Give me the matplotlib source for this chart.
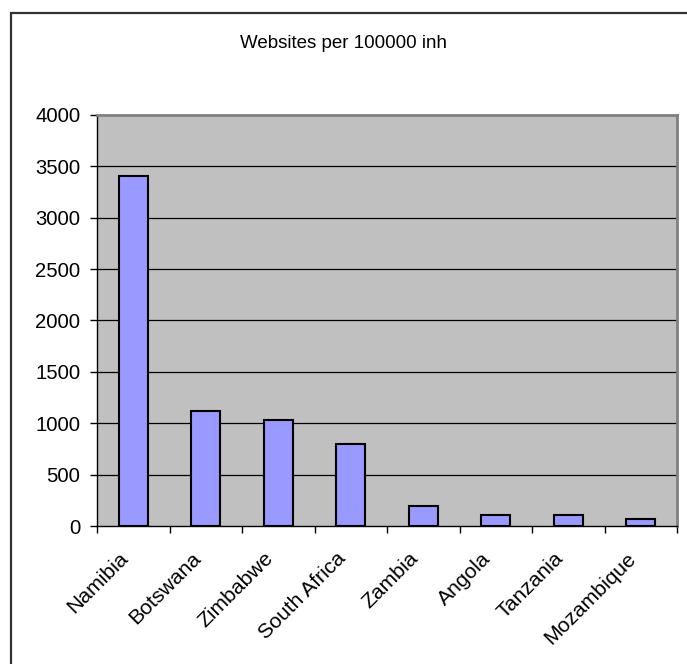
import matplotlib
matplotlib.use("Agg")
import matplotlib.pyplot as plt
from matplotlib.patches import Rectangle
import matplotlib.transforms as mtransforms
import numpy as np

categories = ["Namibia", "Botswana", "Zimbabwe", "South Africa", "Zambia",
              "Angola", "Tanzania", "Mozambique"]
values = [3400, 1120, 1030, 800, 200, 110, 105, 75]
yticks = [0, 500, 1000, 1500, 2000, 2500, 3000, 3500, 4000]
title = "Websites per 100000 inh"

plt.rcParams["font.family"] = ["Liberation Sans", "DejaVu Sans"]

fig = plt.figure(figsize=(6.87, 6.64), dpi=100)
fig.patch.set_facecolor("white")

# outer chart frame (only left/top visible)
W, H = 687, 664
fig.add_artist(Rectangle((10.7 / W, -0.1), 1.2, 1 - 12.7 / H + 0.1,
                         transform=fig.transFigure, fill=False,
                         edgecolor="#333333", linewidth=1.6, clip_on=False))

ax = fig.add_axes([97 / W, 1 - 526.3 / H, (677 - 97) / W, (526.3 - 114.7) / H])
ax.set_facecolor("#C0C0C0")

x = np.arange(len(categories))
ax.bar(x, values, width=0.4, color="#9999FF", edgecolor="black",
       linewidth=1.5, zorder=3)

ax.set_xlim(-0.5, len(categories) - 0.5)
ax.set_ylim(0, 4000)
ax.set_yticks(yticks)
ax.set_yticklabels([str(v) for v in yticks], fontsize=14.6)
for v in yticks[1:-1]:
    ax.axhline(v, color="black", linewidth=0.9, zorder=1)

ax.set_xticks(np.arange(-0.5, len(categories)), minor=True)
ax.tick_params(axis="x", which="major", length=0, pad=21)
ax.tick_params(axis="x", which="minor", length=5, width=1, direction="out",
               color="black")
ax.tick_params(axis="y", length=5, width=1, direction="out", pad=7,
               color="black")
ax.set_xticks(x)
ax.set_xticklabels(categories, fontsize=15.2, rotation=45, ha="right",
                   va="center", rotation_mode="anchor")
offset = mtransforms.ScaledTranslation(-8 / 100, 0, fig.dpi_scale_trans)
for lbl in ax.get_xticklabels():
    lbl.set_transform(lbl.get_transform() + offset)

for s in ["left", "bottom"]:
    ax.spines[s].set_color("black")
    ax.spines[s].set_linewidth(1.0)
for s in ["top", "right"]:
    ax.spines[s].set_color("#808080")
    ax.spines[s].set_linewidth(2.0)

fig.text(0.5, 1 - 44 / H, title, ha="center", va="center", fontsize=13.5)

fig.savefig("out.png", dpi=100, facecolor="white")
